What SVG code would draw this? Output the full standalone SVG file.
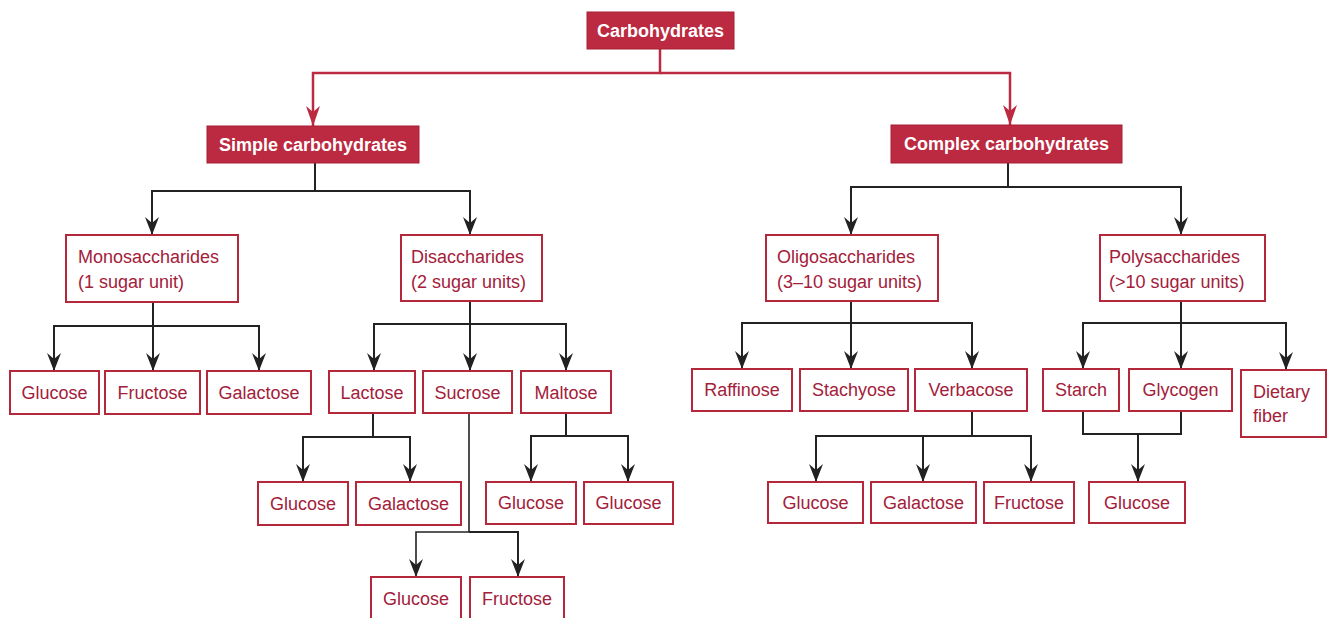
<svg xmlns="http://www.w3.org/2000/svg" width="1331" height="618" viewBox="0 0 1331 618">
<style>
.rb{fill:#bb2a40;stroke:#a81f35;stroke-width:1}
.ob{fill:#fff;stroke:#b5283c;stroke-width:2}
.rt{font-family:"Liberation Sans",Arial,sans-serif;font-weight:bold;font-size:18px;fill:#fff;text-anchor:middle}
.t{font-family:"Liberation Sans",Arial,sans-serif;font-size:18px;fill:#a3203a;text-anchor:middle}
.tl{font-family:"Liberation Sans",Arial,sans-serif;font-size:18px;fill:#a3203a}
.c{fill:none;stroke:#222;stroke-width:2;marker-end:url(#ab)}
.cn{fill:none;stroke:#222;stroke-width:2}
.cr{fill:none;stroke:#bb2a40;stroke-width:2.5;marker-end:url(#ar)}
</style>
<defs>
<marker id="ab" viewBox="0 0 18 14" refX="18" refY="7" markerWidth="18" markerHeight="14" markerUnits="userSpaceOnUse" orient="auto"><path d="M0,0 L18,7 L0,14 L6,7 z" fill="#222"/></marker>
<marker id="ar" viewBox="0 0 20 14" refX="20" refY="7" markerWidth="20" markerHeight="14" markerUnits="userSpaceOnUse" orient="auto"><path d="M0,0 L20,7 L0,14 L6,7 z" fill="#bb2a40"/></marker>
</defs>
<rect width="1331" height="618" fill="#fff"/>
<g id="connectors">
<path class="cr" d="M660,49 V73 H313 V126"/>
<path class="cr" d="M660,73 H1010 V125"/>
<path class="c" d="M315,163 V191 H152 V235"/>
<path class="c" d="M315,191 H470 V235"/>
<path class="c" d="M1008,163 V187 H851 V235"/>
<path class="c" d="M1008,187 H1181 V235"/>
<path class="c" d="M153,302 V326 H54 V371"/>
<path class="c" d="M153,302 V371"/>
<path class="c" d="M153,326 H259 V371"/>
<path class="c" d="M470,301 V324 H374 V371"/>
<path class="c" d="M470,301 V371"/>
<path class="c" d="M470,324 H566 V371"/>
<path class="c" d="M851,301 V323 H742 V369"/>
<path class="c" d="M851,301 V369"/>
<path class="c" d="M851,323 H972 V369"/>
<path class="c" d="M1181,301 V323 H1083 V369"/>
<path class="c" d="M1181,301 V369"/>
<path class="c" d="M1181,323 H1286 V370"/>
<path class="c" d="M373,413 V437 H303 V482"/>
<path class="c" d="M373,437 H410 V482"/>
<path class="c" d="M566,413 V436 H531 V482"/>
<path class="c" d="M566,436 H628 V482"/>
<path class="c" style="stroke-width:1.6" d="M469,413 V532 H416 V577"/>
<path class="c" d="M469,532 H518 V577"/>
<path class="c" d="M972,411 V436 H816 V482"/>
<path class="c" d="M972,436 H1031 V482"/>
<path class="c" d="M923,436 V482"/>
<path class="cn" d="M1083,411 V434 H1181 V411"/>
<path class="c" d="M1138,434 V482"/>
</g>
<g id="carbohydrates"><rect class="rb" x="587" y="12" width="147" height="37"/><text class="rt" x="660.5" y="37">Carbohydrates</text></g>
<g id="simple"><rect class="rb" x="207" y="126" width="212" height="37"/><text class="rt" x="313" y="151">Simple carbohydrates</text></g>
<g id="complex"><rect class="rb" x="891" y="125" width="231" height="38"/><text class="rt" x="1006.5" y="150">Complex carbohydrates</text></g>
<g id="mono"><rect class="ob" x="66" y="235" width="172" height="67"/><text class="tl" x="78" y="263">Monosaccharides</text><text class="tl" x="78" y="288">(1 sugar unit)</text></g>
<g id="di"><rect class="ob" x="401" y="235" width="141" height="66"/><text class="tl" x="411" y="263">Disaccharides</text><text class="tl" x="411" y="288">(2 sugar units)</text></g>
<g id="oligo"><rect class="ob" x="766" y="235" width="172" height="66"/><text class="tl" x="777" y="263">Oligosaccharides</text><text class="tl" x="777" y="288">(3–10 sugar units)</text></g>
<g id="poly"><rect class="ob" x="1100" y="235" width="165" height="66"/><text class="tl" x="1109" y="263">Polysaccharides</text><text class="tl" x="1109" y="288">(&gt;10 sugar units)</text></g>
<g id="glucose1"><rect class="ob" x="10" y="371" width="89" height="43"/><text class="t" x="54.5" y="399">Glucose</text></g>
<g id="fructose1"><rect class="ob" x="105" y="371" width="95" height="43"/><text class="t" x="152.5" y="399">Fructose</text></g>
<g id="galactose1"><rect class="ob" x="207" y="371" width="104" height="43"/><text class="t" x="259" y="399">Galactose</text></g>
<g id="lactose"><rect class="ob" x="329" y="371" width="86" height="42"/><text class="t" x="372" y="399">Lactose</text></g>
<g id="sucrose"><rect class="ob" x="423" y="371" width="89" height="42"/><text class="t" x="467.5" y="399">Sucrose</text></g>
<g id="maltose"><rect class="ob" x="521" y="371" width="90" height="42"/><text class="t" x="566" y="399">Maltose</text></g>
<g id="raffinose"><rect class="ob" x="692" y="369" width="100" height="42"/><text class="t" x="742" y="396">Raffinose</text></g>
<g id="stachyose"><rect class="ob" x="800" y="369" width="108" height="42"/><text class="t" x="854" y="396">Stachyose</text></g>
<g id="verbacose"><rect class="ob" x="915" y="369" width="112" height="42"/><text class="t" x="971" y="396">Verbacose</text></g>
<g id="starch"><rect class="ob" x="1043" y="369" width="76" height="42"/><text class="t" x="1081" y="396">Starch</text></g>
<g id="glycogen"><rect class="ob" x="1129" y="369" width="103" height="42"/><text class="t" x="1180.5" y="396">Glycogen</text></g>
<g id="fiber"><rect class="ob" x="1241" y="370" width="85" height="67"/><text class="tl" x="1253" y="398">Dietary</text><text class="tl" x="1253" y="422">fiber</text></g>
<g id="lac-glucose"><rect class="ob" x="258" y="482" width="90" height="43"/><text class="t" x="303" y="510">Glucose</text></g>
<g id="lac-galactose"><rect class="ob" x="356" y="482" width="105" height="43"/><text class="t" x="408.5" y="510">Galactose</text></g>
<g id="mal-glucose1"><rect class="ob" x="486" y="482" width="90" height="42"/><text class="t" x="531" y="509">Glucose</text></g>
<g id="mal-glucose2"><rect class="ob" x="584" y="482" width="89" height="42"/><text class="t" x="628.5" y="509">Glucose</text></g>
<g id="suc-glucose"><rect class="ob" x="371" y="577" width="90" height="42"/><text class="t" x="416" y="605">Glucose</text></g>
<g id="suc-fructose"><rect class="ob" x="470" y="577" width="94" height="42"/><text class="t" x="517" y="605">Fructose</text></g>
<g id="ver-glucose"><rect class="ob" x="768" y="482" width="95" height="41"/><text class="t" x="815.5" y="509">Glucose</text></g>
<g id="ver-galactose"><rect class="ob" x="871" y="482" width="105" height="41"/><text class="t" x="923.5" y="509">Galactose</text></g>
<g id="ver-fructose"><rect class="ob" x="984" y="482" width="90" height="41"/><text class="t" x="1029" y="509">Fructose</text></g>
<g id="poly-glucose"><rect class="ob" x="1089" y="482" width="96" height="41"/><text class="t" x="1137" y="509">Glucose</text></g>
</svg>
